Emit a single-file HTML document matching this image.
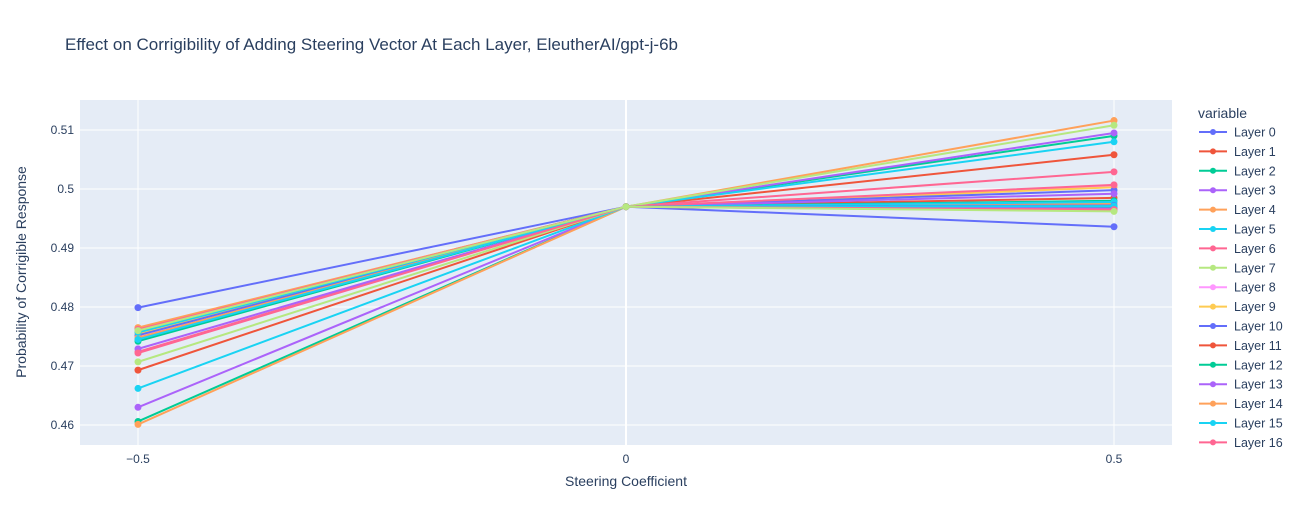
<!DOCTYPE html>
<html><head><meta charset="utf-8">
<style>
body{margin:0;background:#fff;font-family:"Liberation Sans",sans-serif;}
svg text{font-family:"Liberation Sans",sans-serif;}
</style></head>
<body>
<svg id="chart" width="1311" height="525">
<rect x="0" y="0" width="1311" height="525" fill="#fff"/>
<text x="65" y="50" font-size="17" fill="#2a3f5f">Effect on Corrigibility of Adding Steering Vector At Each Layer, EleutherAI/gpt-j-6b</text>
<rect x="80" y="100" width="1092" height="345" fill="#e5ecf6"/>
<g id="grid"></g>
<g id="lines"></g>
<g id="legend"></g>
<text x="626" y="486" font-size="14" fill="#2a3f5f" text-anchor="middle">Steering Coefficient</text>
<text transform="translate(26,272) rotate(-90)" font-size="14" fill="#2a3f5f" text-anchor="middle">Probability of Corrigible Response</text>
</svg>
<script>
const xCats = [-0.5, 0, 0.5];
const xTickLabels = ["−0.5", "0", "0.5"];
const yTicks = [0.46, 0.47, 0.48, 0.49, 0.5, 0.51];
const yTickLabels = ["0.46", "0.47", "0.48", "0.49", "0.5", "0.51"];
const layerNames = Array.from({length:28},(_, i)=>"Layer "+i);
const leftVals = [0.4799,0.4693,0.4606,0.4630,0.4601,0.4662,0.4724,0.4707,0.4750,0.4755,0.4752,0.4746,0.4742,0.4729,0.4748,0.4745,0.4722,
  0.4760,0.4762,0.4758,0.4764,0.4761,0.4763,0.4759,0.4765,0.4757,0.4762,0.4760];
const midVals = Array(28).fill(0.497);
const rightVals = [0.4936,0.5058,0.5090,0.5095,0.5116,0.5080,0.5029,0.5108,0.5005,0.5003,0.4998,0.4985,0.4980,0.4992,0.4975,0.4978,0.5007,
  0.4970,0.4968,0.4966,0.4972,0.4964,0.4969,0.4967,0.4963,0.4971,0.4965,0.4962];
const palette = ["#636efa","#EF553B","#00cc96","#ab63fa","#FFA15A","#19d3f3","#FF6692","#B6E880","#FF97FF","#FECB52"];
const NS="http://www.w3.org/2000/svg";
const xs = v => 626 + v*976;
const ys = v => 189 - (v-0.5)*5900;
function mk(tag, attrs, parent){const e=document.createElementNS(NS,tag);for(const k in attrs)e.setAttribute(k,attrs[k]);parent.appendChild(e);return e;}
const grid=document.getElementById('grid');
yTicks.forEach((t,i)=>{
  const l=mk('line',{x1:80,x2:1172,y1:ys(t),y2:ys(t),stroke:'#fff','stroke-width':1},grid);
  
  
  const tx=mk('text',{x:74,y:ys(t)+4,'font-size':12,fill:'#2a3f5f','text-anchor':'end'},grid);
  tx.textContent=yTickLabels[i];
  
  
});
xCats.forEach((c,i)=>{
  const l=mk('line',{x1:xs(c),x2:xs(c),y1:100,y2:445,stroke:'#fff','stroke-width':c===0?2:1},grid);
  
  
  const tx=mk('text',{x:xs(c),y:463,'font-size':12,fill:'#2a3f5f','text-anchor':'middle'},grid);
  tx.textContent=xTickLabels[i];
  
  
});
const lines=document.getElementById('lines');
for(let i=0;i<layerNames.length;i++){
  const col=palette[i%10];
  const vals=[leftVals[i],midVals[i],rightVals[i]];
  const g=mk('g',{},lines);
  
  
  mk('polyline',{points:xCats.map((c,j)=>xs(c)+','+ys(vals[j])).join(' '),fill:'none',stroke:col,'stroke-width':2},g);
  xCats.forEach((c,j)=>{
    const p=mk('circle',{cx:xs(c),cy:ys(vals[j]),r:3.5,fill:col},g);
    
    
  });
}
const lg=document.getElementById('legend');
const lt=mk('text',{x:1198,y:118,'font-size':14,fill:'#2a3f5f'},lg);
lt.textContent='variable';


for(let i=0;i<17;i++){
  const y=132+i*19.4;
  const col=palette[i%10];
  const g=mk('g',{},lg);
  
  
  mk('line',{x1:1199,x2:1227,y1:y,y2:y,stroke:col,'stroke-width':2},g);
  mk('circle',{cx:1213,cy:y,r:3,fill:col},g);
  const t=mk('text',{x:1234,y:y+4.5,'font-size':12.5,fill:'#2a3f5f'},g);
  t.textContent=layerNames[i];
}
</script>
</body></html>
